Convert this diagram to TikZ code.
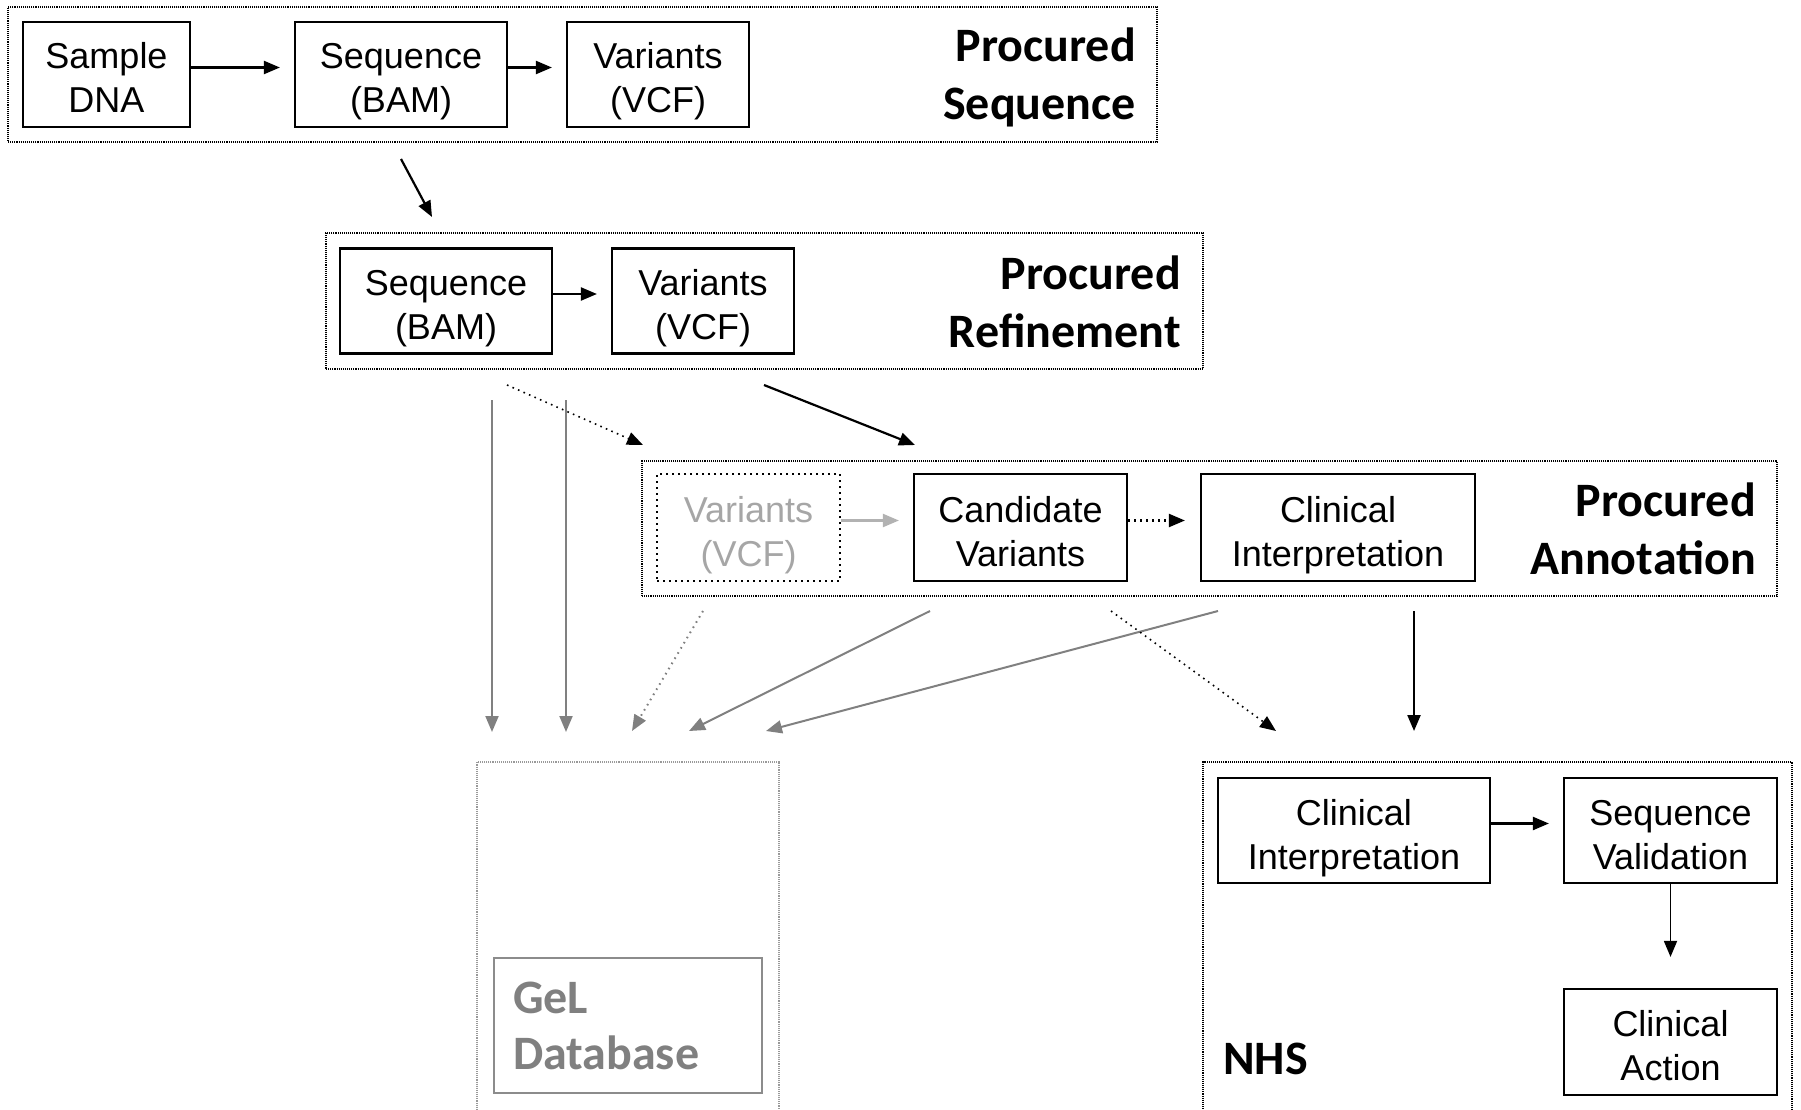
\documentclass[tikz,border=0pt]{standalone}
\usepackage{fontspec}
\setmainfont{Liberation Sans}
\newfontfamily\titlefont{Carlito}
\usetikzlibrary{arrows.meta,positioning}
\newcommand\boxtext[2]{\rule{0pt}{43pt}#1\\#2\rule[-10pt]{0pt}{10pt}}

\begin{document}
\begin{tikzpicture}[x=1pt,y=-1pt,>={Triangle[length=16pt,width=13pt]},
 box/.style={draw,line width=2.2pt,align=center,inner sep=0pt,minimum height=105pt,
  font=\fontsize{36}{44}\selectfont},
 grp/.style={draw,densely dotted,line width=1.1pt,inner sep=0pt},
 ttl/.style={align=right,inner sep=0pt,font=\titlefont\bfseries\fontsize{48}{58}\selectfont},
 link/.style={->,line width=2.2pt},
 dimlink/.style={->,line width=2pt,draw=black!50},
 dots/.style={dash pattern=on 1.6pt off 4.4pt}]
 \useasboundingbox (0,0) rectangle (1801,1110);
 \clip (0,0) rectangle (1801,1110);

 % procured sequence
 \node[grp,minimum width=1149pt,minimum height=135pt] (seqgrp) at (582.5,74.5) {};
 \node[box,minimum width=167pt] (dna) at (106.5,74.5) {\boxtext{Sample}{DNA}};
 \node[box,minimum width=212pt] (bamA) at (401,74.5) {\boxtext{Sequence}{(BAM)}};
 \node[box,minimum width=182pt] (vcfA) at (658,74.5) {\boxtext{Variants}{(VCF)}};
 \node[ttl,anchor=east] (seqttl) at (1136,77) {Procured\\Sequence};
 \draw[link,shorten >=14pt] ([yshift=7pt]dna.east) -- ([yshift=7pt]bamA.west);
 \draw[link,shorten >=14pt] ([yshift=7pt]bamA.east) -- ([yshift=7pt]vcfA.west);

 % procured refinement
 \node[grp,minimum width=877pt,minimum height=136pt] (refgrp) at (764.5,301) {};
 \node[box,minimum width=212pt] (bamB) at (446,301) {\boxtext{Sequence}{(BAM)}};
 \node[box,minimum width=182pt] (vcfB) at (703,301) {\boxtext{Variants}{(VCF)}};
 \node[ttl,anchor=east] (refttl) at (1181,302) {Procured\\Refinement};
 \draw[link,shorten >=14pt] ([yshift=7pt]bamB.east) -- ([yshift=7pt]vcfB.west);

 % procured annotation
 \node[grp,minimum width=1135pt,minimum height=135pt] (annogrp) at (1209.5,528.5) {};
 \node[box,dots,text=black!35,minimum width=183pt,minimum height=107pt] (vcfC) at (748.5,527.5) {\boxtext{Variants}{(VCF)}};
 \node[box,minimum width=213pt,minimum height=107pt] (cand) at (1020.5,527.5) {\boxtext{Candidate}{Variants}};
 \node[box,minimum width=274pt,minimum height=107pt] (interpA) at (1338,527.5) {\boxtext{Clinical}{Interpretation}};
 \node[ttl,anchor=east] (annottl) at (1756,529) {Procured\\Annotation};
 \draw[->,line width=2.2pt,draw=black!30,shorten >=14pt] ([yshift=7pt]vcfC.east) -- ([yshift=7pt]cand.west);
 \draw[link,dots,shorten >=15pt] ([yshift=7pt]cand.east) -- ([yshift=7pt]interpA.west);

 % GeL
 \node[grp,draw=black!40,minimum width=302pt,minimum height=368pt] (gelgrp) at (628,946) {};
 \node[draw=black!45,line width=2pt,text=black!50,text width=230pt,inner xsep=19pt,
  minimum height=135pt,align=left,font=\titlefont\bfseries\fontsize{48}{56}\selectfont]
  (gel) at (628,1025.5) {GeL\\Database};

 % NHS
 \node[grp,minimum width=589pt,minimum height=368pt] (nhsgrp) at (1497.5,946) {};
 \node[box,minimum width=272pt] (interpB) at (1354,830.5) {\boxtext{Clinical}{Interpretation}};
 \node[box,minimum width=213pt] (valid) at (1670.5,830.5) {\boxtext{Sequence}{Validation}};
 \node[box,minimum width=213pt,minimum height=106pt] (action) at (1670.5,1042) {\boxtext{Clinical}{Action}};
 \node[ttl,anchor=west] (nhsttl) at (1223,1059) {NHS};
 \draw[link,shorten >=14pt] ([yshift=7pt]interpB.east) -- ([yshift=7pt]valid.west);
 \draw[link,line width=1.8pt,shorten >=31pt] (valid) -- (action);

 % hand-offs
 \coordinate (s1) at (401,159); \coordinate (r1) at (432,217);
 \coordinate (r2) at (492,400); \coordinate (g1) at (492,732);
 \coordinate (r3) at (566,400); \coordinate (g2) at (566,732);
 \coordinate (r4) at (507,385); \coordinate (a1) at (643,445);
 \coordinate (r5) at (764,385); \coordinate (a2) at (915,445);
 \coordinate (a3) at (703,611); \coordinate (g3) at (632,731);
 \coordinate (a4) at (930,611); \coordinate (g4) at (689,731);
 \coordinate (a5) at (1218,611); \coordinate (g5) at (766,731);
 \coordinate (a6) at (1111,611); \coordinate (n1) at (1276,731);
 \coordinate (a7) at (1414,611); \coordinate (n2) at (1414,731);
 \draw[link] (s1) -- (r1);
 \draw[dimlink] (r2) -- (g1);
 \draw[dimlink] (r3) -- (g2);
 \draw[link,line width=1.6pt,dots] (r4) -- (a1);
 \draw[link] (r5) -- (a2);
 \draw[dimlink,dots] (a3) -- (g3);
 \draw[dimlink] (a4) -- (g4);
 \draw[dimlink] (a5) -- (g5);
 \draw[link,line width=1.6pt,dots] (a6) -- (n1);
 \draw[link] (a7) -- (n2);
\end{tikzpicture}
\end{document}
